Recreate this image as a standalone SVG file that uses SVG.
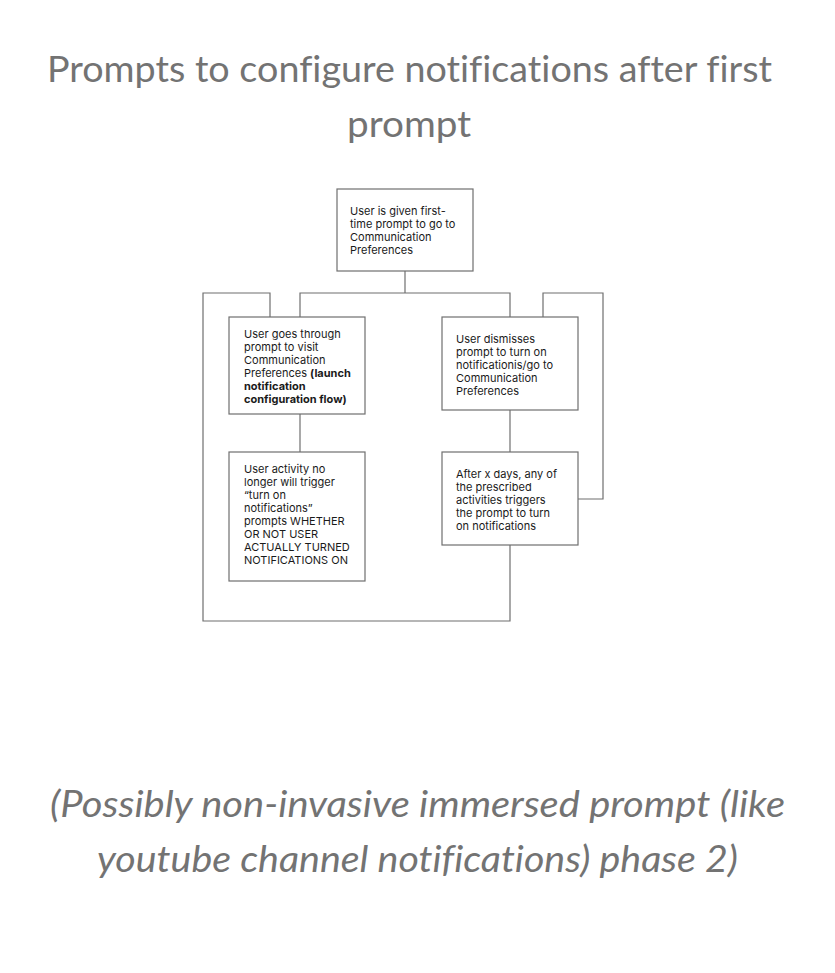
<svg xmlns="http://www.w3.org/2000/svg" width="835" height="973" viewBox="0 0 835 973">
<style>
.title{font-family:Lato,"Open Sans",sans-serif;font-size:37px;font-weight:400;fill:#737373;text-anchor:middle;font-variant-ligatures:none;font-feature-settings:"liga" 0,"dlig" 0}
.note{font-family:Lato,"Open Sans",sans-serif;font-size:37px;font-weight:400;font-style:italic;fill:#737373;text-anchor:middle;font-variant-ligatures:none;font-feature-settings:"liga" 0,"dlig" 0}
.box{fill:#ffffff;stroke:#6f6f6f;stroke-width:1.2}
.lbl{font-family:Inter,"Liberation Sans",sans-serif;font-size:11px;fill:#1a1a1a}
.b{font-weight:bold}
.con{fill:none;stroke:#6f6f6f;stroke-width:1.2}
</style>
<rect width="835" height="973" fill="#ffffff"/>
<text class="title" x="409.5" y="82" textLength="725" lengthAdjust="spacingAndGlyphs">Prompts to configure notifications after first</text>
<text class="title" x="409" y="137" textLength="124" lengthAdjust="spacingAndGlyphs">prompt</text>
<g id="connectors">
<path class="con" d="M405,271 V293"/>
<path class="con" d="M300,317 V293 H510 V317"/>
<path class="con" d="M300,414 V452"/>
<path class="con" d="M510,410 V452"/>
<path class="con" d="M510,545 V621 H203 V293 H270 V317"/>
<path class="con" d="M578,499 H603 V293 H543 V317"/>
</g>
<g id="n1">
<rect class="box" x="337" y="189" width="136" height="82"/>
<text class="lbl" x="350"><tspan x="350" y="215">User is given first-</tspan><tspan x="350" y="228">time prompt to go to</tspan><tspan x="350" y="241">Communication</tspan><tspan x="350" y="254">Preferences</tspan></text>
</g>
<g id="n2">
<rect class="box" x="229" y="317" width="136" height="97"/>
<text class="lbl" x="244"><tspan x="244" y="338">User goes through</tspan><tspan x="244" y="351">prompt to visit</tspan><tspan x="244" y="364">Communication</tspan><tspan x="244" y="377">Preferences <tspan class="b">(launch</tspan></tspan><tspan class="b" x="244" y="390">notification</tspan><tspan class="b" x="244" y="403">configuration flow)</tspan></text>
</g>
<g id="n3">
<rect class="box" x="442" y="317" width="136" height="93"/>
<text class="lbl" x="456"><tspan x="456" y="343">User dismisses</tspan><tspan x="456" y="356">prompt to turn on</tspan><tspan x="456" y="369">notificationis/go to</tspan><tspan x="456" y="382">Communication</tspan><tspan x="456" y="395">Preferences</tspan></text>
</g>
<g id="n4">
<rect class="box" x="229" y="452" width="136" height="129"/>
<text class="lbl" x="244"><tspan x="244" y="473">User activity no</tspan><tspan x="244" y="486">longer will trigger</tspan><tspan x="244" y="499">“turn on</tspan><tspan x="244" y="512">notifications”</tspan><tspan x="244" y="525">prompts WHETHER</tspan><tspan x="244" y="538">OR NOT USER</tspan><tspan x="244" y="551">ACTUALLY TURNED</tspan><tspan x="244" y="564">NOTIFICATIONS ON</tspan></text>
</g>
<g id="n5">
<rect class="box" x="442" y="452" width="136" height="93"/>
<text class="lbl" x="456"><tspan x="456" y="478">After x days, any of</tspan><tspan x="456" y="491">the prescribed</tspan><tspan x="456" y="504">activities triggers</tspan><tspan x="456" y="517">the prompt to turn</tspan><tspan x="456" y="530">on notifications</tspan></text>
</g>
<text class="note" x="417.5" y="817" textLength="735" lengthAdjust="spacingAndGlyphs">(Possibly non-invasive immersed prompt (like</text>
<text class="note" x="417.5" y="872" textLength="641" lengthAdjust="spacingAndGlyphs">youtube channel notifications) phase 2)</text>
</svg>
